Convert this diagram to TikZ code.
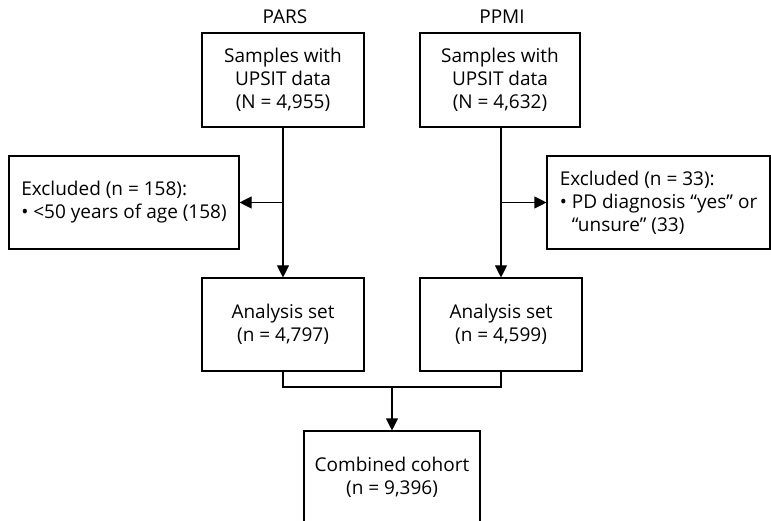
\documentclass[tikz,border=0pt]{standalone}
\usepackage{fontspec}
\setmainfont{Open Sans}
\usetikzlibrary{arrows.meta}

\begin{document}
\begin{tikzpicture}[x=1pt,y=-1pt,line width=1.1pt,
    font=\fontsize{19}{23}\selectfont,
    box/.style={draw,align=center,inner sep=0pt},
    exclbox/.style={draw,align=left,inner sep=0pt,minimum height=93pt},
    >={Triangle[length=12pt,width=12pt]}]
        \clip (0,0) rectangle (771,521);
        \path
        (285,17) node(parsHdr) {PARS}
        (502,17) node(ppmiHdr) {PPMI}
        (283,80) node[box,minimum width=162pt,minimum height=94pt](parsSamples) {Samples with\\UPSIT data\\(N = 4,955)}
        (500,80) node[box,minimum width=160pt,minimum height=94pt](ppmiSamples) {Samples with\\UPSIT data\\(N = 4,632)}
        (124,202.5) node[exclbox,minimum width=230pt](parsExcl) {Excluded (n = 158):\\• <50 years of age (158)}
        (658.5,202.5) node[exclbox,minimum width=223pt](ppmiExcl) {Excluded (n = 33):\\• PD diagnosis “yes” or\\\phantom{• }“unsure” (33)}
        (283,324.5) node[box,minimum width=162pt,minimum height=93pt](parsAnalysis) {Analysis set\\(n = 4,797)}
        (501,324.5) node[box,minimum width=162pt,minimum height=93pt](ppmiAnalysis) {Analysis set\\(n = 4,599)}
        (392,477) node[box,minimum width=176pt,minimum height=92pt](combined) {Combined cohort\\(n = 9,396)}
        ;

        \coordinate (parsSplit) at (parsSamples.south |- parsExcl.east);
        \coordinate (ppmiSplit) at (ppmiSamples.south -| 501,0);
        \coordinate (merge) at (combined.north |- 0,387);

        \draw[->] (parsSamples) -- (parsAnalysis);
        \draw[->] (501,127) -- (ppmiAnalysis.north -| 501,0);
        \draw[->] (parsSplit) -- (parsExcl);
        \draw[->] (ppmiSplit |- ppmiExcl.west) -- (ppmiExcl);
        \draw (parsAnalysis.south) |- (merge) -| (ppmiAnalysis.south -| 501,0);
        \draw[->] (merge) -- (combined);
      \end{tikzpicture}
\end{document}
